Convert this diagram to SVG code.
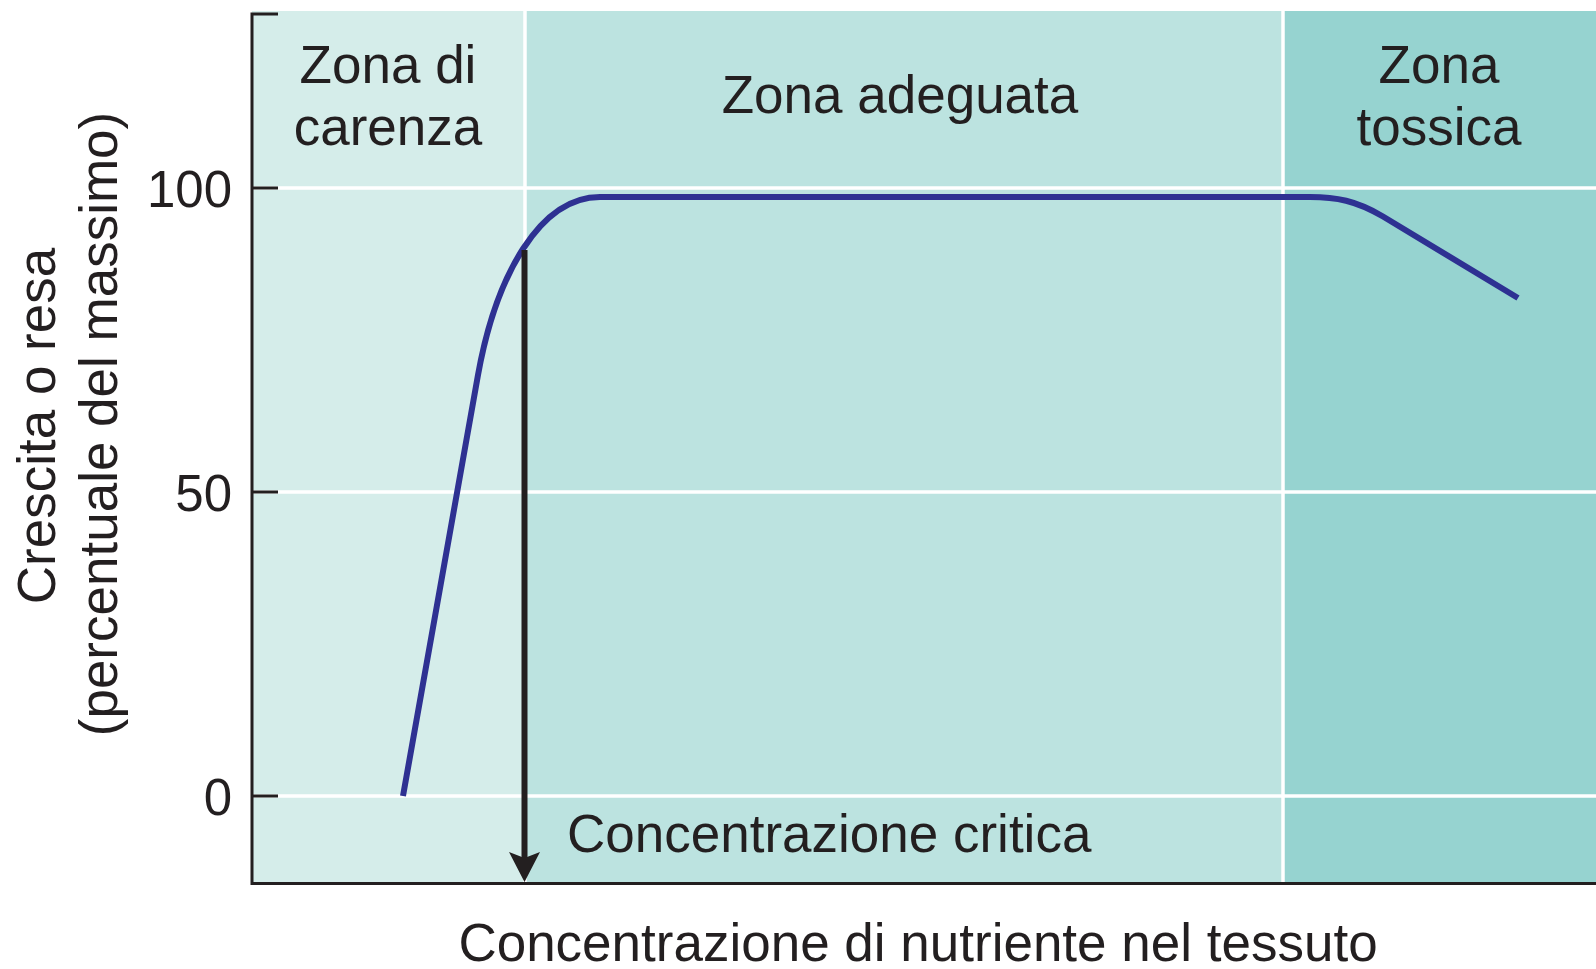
<svg xmlns="http://www.w3.org/2000/svg" width="1596" height="969" viewBox="0 0 1596 969">
  <style>
    .t { font-family: "Liberation Sans", Arial, sans-serif; font-size: 53px; fill: #231f20; }
    .num { font-family: "Liberation Sans", Arial, sans-serif; font-size: 51px; fill: #231f20; text-anchor: end; }
    .grid { stroke: #ffffff; stroke-width: 3.5; fill: none; }
    .axis { stroke: #231f20; stroke-width: 3; fill: none; }
  </style>
  <rect width="1596" height="969" fill="#ffffff"/>
  <g id="zones">
    <rect id="zone-carenza" x="252" y="11" width="273" height="872" fill="#d5edea"/>
    <rect id="zone-adeguata" x="525" y="11" width="758" height="872" fill="#bce3e0"/>
    <rect id="zone-tossica" x="1283" y="11" width="313" height="872" fill="#96d3d0"/>
  </g>
  <g id="grid">
    <line class="grid" x1="252" y1="188" x2="1596" y2="188"/>
    <line class="grid" x1="252" y1="492" x2="1596" y2="492"/>
    <line class="grid" x1="252" y1="796" x2="1596" y2="796"/>
    <line class="grid" x1="525" y1="11" x2="525" y2="883"/>
    <line class="grid" x1="1283" y1="11" x2="1283" y2="883"/>
  </g>
  <g id="axes">
    <path class="axis" d="M278,14 H252 V883.5 H1596"/>
    <line class="axis" x1="252" y1="188" x2="278" y2="188"/>
    <line class="axis" x1="252" y1="492" x2="278" y2="492"/>
    <line class="axis" x1="252" y1="796" x2="278" y2="796"/>
    <text class="num" x="232" y="207">100</text>
    <text class="num" x="232" y="511">50</text>
    <text class="num" x="232" y="815">0</text>
  </g>
  <g id="zone-labels">
    <text class="t" x="388" y="83" text-anchor="middle">Zona di</text>
    <text class="t" x="388" y="145" text-anchor="middle">carenza</text>
    <text class="t" x="900" y="113" text-anchor="middle">Zona adeguata</text>
    <text class="t" x="1439" y="83" text-anchor="middle">Zona</text>
    <text class="t" x="1439" y="145" text-anchor="middle">tossica</text>
  </g>
  <g id="axis-titles">
    <text class="t" transform="translate(55,426) rotate(-90)" text-anchor="middle">Crescita o resa</text>
    <text class="t" transform="translate(117,424) rotate(-90)" text-anchor="middle">(percentuale del massimo)</text>
    <text class="t" x="918" y="961" text-anchor="middle">Concentrazione di nutriente nel tessuto</text>
  </g>
  <g id="curve">
    <path d="M403,796 L478,375 C496,275 540,197 600,197 L1310,197 C1336,197 1356,200.5 1383,216.5 L1518,298" fill="none" stroke="#2e3192" stroke-width="6"/>
  </g>
  <g id="connectors">
    <line x1="524.5" y1="250" x2="524.5" y2="862" stroke="#231f20" stroke-width="6"/>
    <polygon points="509,852 524.5,858 540,852 524.5,882" fill="#231f20"/>
  </g>
  <g id="critical-label">
    <text class="t" x="567" y="852">Concentrazione critica</text>
  </g>
</svg>
